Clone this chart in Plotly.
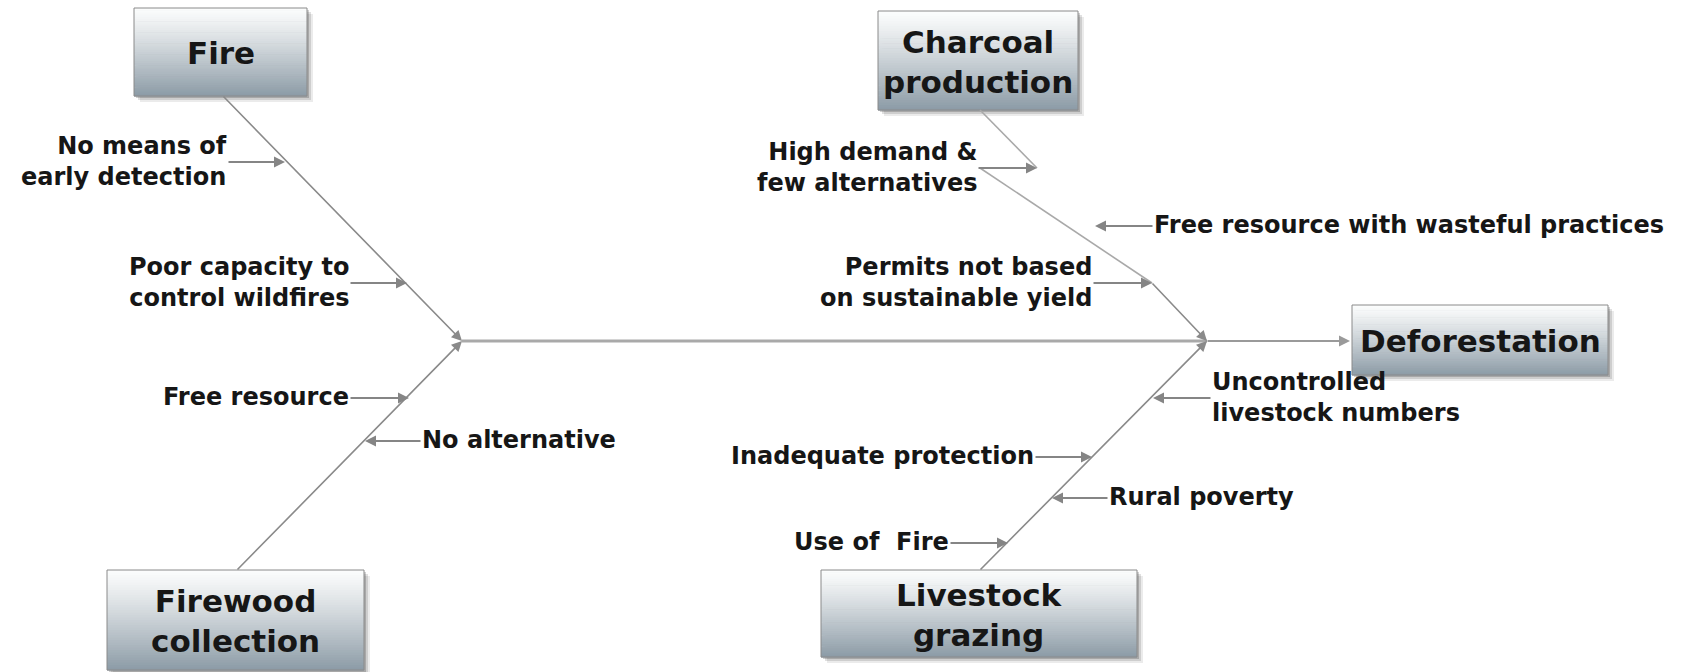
import plotly.graph_objects as go

# ---------------- data (texts) ----------------
effect = "Deforestation"
categories = ["Fire", "Charcoal<br>production", "Firewood<br>collection", "Livestock<br>grazing"]
fire_causes = ["No means of<br>early detection", "Poor capacity to<br>control wildfires"]
charcoal_causes = ["High demand &<br>few alternatives", "Free resource with wasteful practices",
                   "Permits not based<br>on sustainable yield"]
firewood_causes = ["Free resource", "No alternative"]
livestock_causes = ["Uncontrolled<br>livestock numbers", "Inadequate protection", "Rural poverty",
                    "Use of  Fire"]

# ---------------- layout (pixel space of the 1694x672 canvas) ----------------
W, H = 1694, 672
SPINE_Y = 341
JUNCTION_L, JUNCTION_R = 462, 1207
EFFECT_BOX = (1352, 305, 1608, 375)
CAT_BOXES = [(134, 8, 307, 96), (878, 11, 1078, 110), (107, 570, 364, 670), (821, 570, 1137, 657)]
# bone polylines for each category (box end -> junction)
CAT_BONES = [
    [[(223, 96), (462, 341)]],
    [[(980, 110), (1037, 168)], [(980, 168), (1152, 283)], [(1152, 283), (1207, 341)]],
    [[(237, 570), (462, 341)]],
    [[(980, 570), (1207, 341)]],
]
# cause arrows: (tip_x, tip_y, tail_x, text_side)
CAUSE_POS = [
    [(285, 162, 228, "L"), (407, 283, 350, "L")],
    [(1037, 168, 978, "L"), (1095, 226, 1153, "R"), (1152, 283, 1093, "L")],
    [(409, 398, 350, "L"), (365, 441, 421, "R")],
    [(1153, 398, 1211, "R"), (1092, 457, 1035, "L"), (1052, 498, 1108, "R"), (1008, 543, 950, "L")],
]
CAUSES = [fire_causes, charcoal_causes, firewood_causes, livestock_causes]

LINE_C = "#a9a9a9"
ARROW_C = "#858585"
TEXT_C = "#161616"
FONT = "DejaVu Sans"
CAUSE_SIZE = 24
BOX_SIZE = 31

fig = go.Figure()
fig.add_trace(go.Scatter(x=[0, W], y=[0, H], mode="markers", marker=dict(opacity=0),
                         hoverinfo="skip", showlegend=False))

shapes = []
annotations = []


def hexmix(c1, c2, t):
    a = [int(c1[i:i + 2], 16) for i in (1, 3, 5)]
    b = [int(c2[i:i + 2], 16) for i in (1, 3, 5)]
    return "rgb(%d,%d,%d)" % tuple(round(a[k] + (b[k] - a[k]) * t) for k in range(3))


def add_box(box, label, size):
    x0, y0, x1, y1 = box
    # soft shadow
    for off, op in [(6, 0.08), (4, 0.12), (2, 0.18)]:
        shapes.append(dict(type="rect", xref="x", yref="y", x0=x0 + off, y0=y0 + off,
                           x1=x1 + off, y1=y1 + off, line=dict(width=0),
                           fillcolor="rgba(0,0,0,%.2f)" % op, layer="below"))
    n = 40
    h = (y1 - y0) / n
    for i in range(n):
        t = i / (n - 1)
        shapes.append(dict(type="rect", xref="x", yref="y", x0=x0, x1=x1,
                           y0=y0 + i * h, y1=y0 + (i + 1) * h + 0.6,
                           line=dict(width=0), fillcolor=hexmix("#fbfcfc", "#8d9ca7", t ** 1.15),
                           layer="below"))
    shapes.append(dict(type="rect", xref="x", yref="y", x0=x0, y0=y0, x1=x1, y1=y1,
                       line=dict(color="#8a8a8a", width=1), fillcolor="rgba(0,0,0,0)", layer="below"))
    annotations.append(dict(x=(x0 + x1) / 2, y=(y0 + y1) / 2 + 1, xref="x", yref="y",
                            text=label, showarrow=False, xanchor="center", yanchor="middle",
                            align="center", borderpad=0,
                            font=dict(family=FONT, size=size, color=TEXT_C, weight="bold")))


def add_arrow(tip, tail, width=2, color=ARROW_C, size=1.1):
    annotations.append(dict(x=tip[0], y=tip[1], ax=tail[0], ay=tail[1], xref="x", yref="y",
                            axref="x", ayref="y", text="", showarrow=True, arrowhead=2,
                            arrowsize=size, arrowwidth=width, arrowcolor=color,
                            borderpad=0, font=dict(size=1)))


# main spine
shapes.append(dict(type="line", xref="x", yref="y", x0=JUNCTION_L, y0=SPINE_Y, x1=JUNCTION_R,
                   y1=SPINE_Y, line=dict(color=LINE_C, width=3)))
add_arrow((EFFECT_BOX[0] - 2, SPINE_Y), (JUNCTION_R, SPINE_Y), width=2, color="#9a9a9a")

# category bones
for bones in CAT_BONES:
    for j, seg in enumerate(bones):
        (xa, ya), (xb, yb) = seg
        if j == len(bones) - 1:
            add_arrow((xb, yb), (xa, ya), width=1.6, color="#8a8a8a", size=1.3)
        else:
            shapes.append(dict(type="line", xref="x", yref="y", x0=xa, y0=ya, x1=xb, y1=yb,
                               line=dict(color=LINE_C, width=1.6)))

# cause arrows + labels
for causes, poss in zip(CAUSES, CAUSE_POS):
    for txt, (tx, ty, tailx, side) in zip(causes, poss):
        add_arrow((tx, ty), (tailx, ty), width=2)
        left = side == "L"
        annotations.append(dict(x=tailx, y=ty - 1, xref="x", yref="y", text=txt,
                                showarrow=False, xanchor="right" if left else "left",
                                yanchor="middle", align="right" if left else "left", borderpad=0,
                                font=dict(family=FONT, size=CAUSE_SIZE, color=TEXT_C, weight="bold")))

# boxes
for box, lab in zip(CAT_BOXES, categories):
    add_box(box, lab, BOX_SIZE)
add_box(EFFECT_BOX, effect, BOX_SIZE)

fig.update_layout(
    width=W, height=H, margin=dict(l=0, r=0, t=0, b=0),
    paper_bgcolor="white", plot_bgcolor="white", showlegend=False,
    xaxis=dict(range=[0, W], visible=False, fixedrange=True),
    yaxis=dict(range=[H, 0], visible=False, fixedrange=True),
    shapes=shapes, annotations=annotations,
)

fig.write_html("out.html", config={"displayModeBar": False},
               post_script="document.body.style.margin='0';")
